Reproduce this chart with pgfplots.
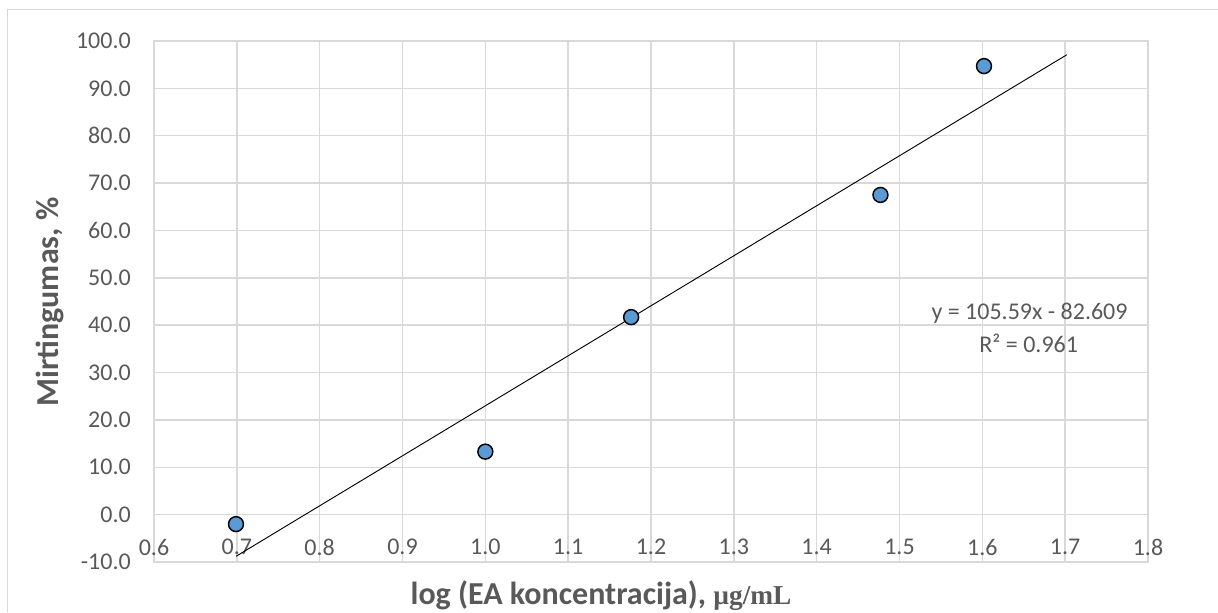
\documentclass[border=0pt]{standalone}
\usepackage{fontspec}
\setmainfont{Carlito}
\newfontfamily\serifb{Liberation Serif}
\usepackage{pgfplots}
\pgfplotsset{compat=1.18}
\definecolor{gridgray}{HTML}{D9D9D9}
\definecolor{txtgray}{HTML}{595959}
\definecolor{ptblue}{HTML}{5B9BD5}
\begin{document}
\begin{tikzpicture}
\useasboundingbox (0pt,0pt) rectangle (913.5pt,459pt);
\draw[gridgray, line width=1.1pt] (5.6pt,0pt) -- (5.6pt,452pt) -- (913.5pt,452pt);
\begin{axis}[
 at={(115.5pt,37.5pt)}, anchor=south west,
 width=745.5pt, height=390.75pt, scale only axis,
 xmin=0.6, xmax=1.8, ymin=-10, ymax=100,
 xtick={0.6,0.7,0.8,0.9,1.0,1.1,1.2,1.3,1.4,1.5,1.6,1.7,1.8},
 ytick={-10,0,10,20,30,40,50,60,70,80,90,100},
 grid=major,
 major grid style={gridgray, line width=1.1pt},
 axis line style={gridgray, line width=1.1pt},
 major tick length=0pt,
 tick style={draw=none},
 /pgf/number format/assume math mode=true,
 xticklabel={\pgfmathprintnumber[fixed,fixed zerofill,precision=1]{\tick}},
 yticklabel={\pgfmathprintnumber[fixed,fixed zerofill,precision=1]{\tick}},
 ticklabel style={font=\fontsize{18}{21}\selectfont, text=txtgray},
 xticklabel style={anchor=center, yshift=11.25pt},
 yticklabel style={anchor=east, inner sep=0pt, xshift=-17.25pt},
 xlabel={log (EA koncentracija), {\serifb\fontsize{20.5}{24}\selectfont µg/mL}},
 xlabel style={at={(axis description cs:0.4497,-0.0825)}, anchor=base, font=\bfseries\fontsize{24}{28}\selectfont, text=txtgray},
 ylabel={Mirtingumas, \%},
 ylabel style={at={(axis description cs:-0.1046,0.499)}, anchor=center, font=\bfseries\fontsize{24}{28}\selectfont, text=txtgray},
 clip=false,
]
\addplot[black, line width=0.7pt, no marks] coordinates {(0.699,-8.80) (1.702,97.10)};
\addplot[only marks, mark=*, mark size=5.6pt, mark options={fill=ptblue, draw=black, line width=1.1pt}] coordinates {
 (0.699,-2.0) (1.000,13.3) (1.176,41.7) (1.477,67.5) (1.602,94.7)};
\node[font=\fontsize{18}{21}\selectfont, text=txtgray] at (axis cs:1.657,42.57) {y = 105.59x - 82.609};
\node[font=\fontsize{18}{21}\selectfont, text=txtgray] at (axis cs:1.656,36.23) {R² = 0.961};
\end{axis}
\end{tikzpicture}
\end{document}
